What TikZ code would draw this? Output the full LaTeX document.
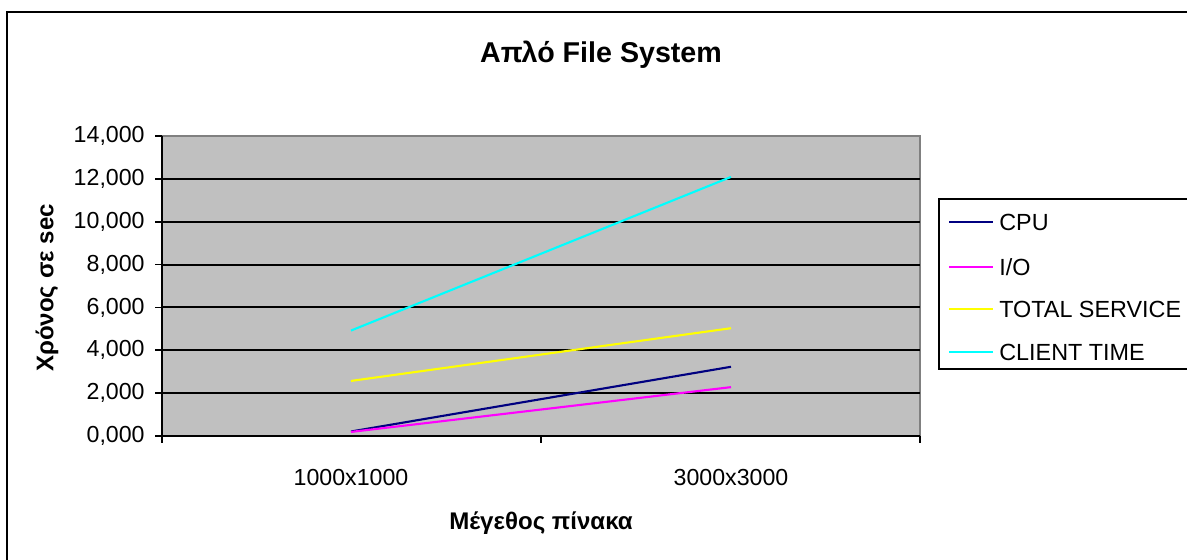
\documentclass[tikz,border=0pt]{standalone}
\usepackage{fontspec}
\setmainfont{Liberation Sans}
\usetikzlibrary{positioning}
\definecolor{plotGray}{HTML}{C0C0C0}
\definecolor{frameGray}{HTML}{808080}
\definecolor{cpuNavy}{HTML}{000080}
\definecolor{ioMagenta}{HTML}{FF00FF}
\definecolor{totYellow}{HTML}{FFFF00}
\definecolor{cliCyan}{HTML}{00FFFF}

\begin{document}
\begin{tikzpicture}[x=0.02cm, y=-0.02cm,
    ticklbl/.style={font=\fontsize{13.2}{15}\selectfont, inner sep=0pt},
    axtitle/.style={font=\bfseries\fontsize{13.7}{16}\selectfont, inner sep=0pt},
    grid/.style={black, line width=1.1pt},
    series/.style={line width=1.2pt},
    legtext/.style={font=\fontsize{13.3}{15}\selectfont, anchor=west, inner sep=0pt},
  ]
    % page size and outer chart frame
    \useasboundingbox (0,0) rectangle (1187,560);
    \clip (0,0) rectangle (1187,560);
    \fill[white] (0,0) rectangle (1187,560);
    \draw[black, line width=1.3pt] (7,12) rectangle (1200,575);

    % Title
    \node[font=\bfseries\fontsize{16.3}{19}\selectfont] (title) at (601,55) {Απλό File System};

    % Plot area
    \fill[plotGray] (162,136) rectangle (920,436);
    \draw[frameGray, line width=0.8pt] (162,136) -- (920,136) -- (920,436);

    % gridlines, ticks and y labels
    \foreach \k in {1,...,6}{
      \draw[grid] (162,{436-42.857*\k}) -- (920,{436-42.857*\k});
    }
    \foreach \k/\lbl in {0/0,1/2,2/4,3/6,4/8,5/10,6/12,7/14}{
      \draw[black, line width=1pt] (155,{436-42.857*\k}) -- (162,{436-42.857*\k});
      \node[ticklbl, anchor=east] (ylbl\k) at (145,{436-42.857*\k}) {\lbl,000};
    }

    % axes
    \draw[black, line width=1.1pt] (162,436) -- (920,436);
    \draw[black, line width=1.1pt] (162,136) -- (162,443);
    \foreach \xx in {541,920}{
      \draw[black, line width=1.1pt] (\xx,436) -- (\xx,443);
    }

    % x labels
    \node[ticklbl] (xlblA) at (351,478) {1000x1000};
    \node[ticklbl] (xlblB) at (731,478) {3000x3000};
    \node[axtitle] (xtitle) at (541,523) {Μέγεθος πίνακα};
    \node[axtitle, rotate=90] (ytitle) at (47,288) {Χρόνος σε sec};

    % data series (values in thousands of sec)
    \foreach \col/\a/\b in {cpuNavy/0.21/3.23, ioMagenta/0.19/2.28,
                            totYellow/2.57/5.03, cliCyan/4.92/12.09}{
      \draw[series, \col] (351,{436-21.4286*\a}) -- (731,{436-21.4286*\b});
    }

    % Legend
    \draw[black, line width=1.2pt] (939,199) rectangle (1210,369);
    \foreach \col/\yy/\txt/\nm in {cpuNavy/222/CPU/legA, ioMagenta/267/I\slash O/legB,
                                   totYellow/309/TOTAL SERVICE/legC, cliCyan/352/CLIENT TIME/legD}{
      \draw[series, \col] (949,\yy) -- (993,\yy);
      \node[legtext] (\nm) at (999,\yy) {\txt};
    }
\end{tikzpicture}
\end{document}
